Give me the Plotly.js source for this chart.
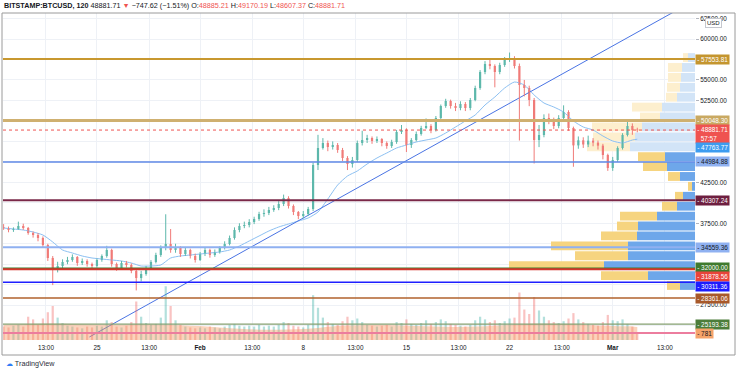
<!DOCTYPE html>
<html><head><meta charset="utf-8">
<script src="https://cdn.plot.ly/plotly-3.0.1.min.js"></script>
<style>html,body{margin:0;padding:0;background:#fff;}#chart{width:736px;height:372px;}</style>
</head><body><div id="chart"></div>
<script>
// ---------- DATA ----------
const barStartUTC = Date.UTC(2021, 0, 18, 16, 0);   // first bar
const barHours = 8;
const firstOpen = 37000;
const closes = [
 36923,36679,36801,37167,36923,36313,36068,35702,34847,33260,
 32039,32283,32772,33016,33382,32650,32894,32528,32283,33016,
 33504,34237,32528,32039,32650,32406,31673,30818,31307,32039,
 32772,33626,34481,34970,34237,34481,33749,34237,33504,33016,
 33749,34237,33626,33993,34481,34970,35702,36679,37167,37289,
 37656,38022,38633,38755,39121,39365,39854,40586,39609,38877,
 38388,38633,39243,44615,46691,47302,46813,47057,46447,45470,
 44738,45226,47302,47668,47912,47546,47790,47302,46935,47424,
 48645,48889,47057,47668,48401,49133,49377,48889,50354,51819,
 52430,51819,51575,52064,51575,52552,54017,55971,56948,56703,
 55971,56825,57436,57680,56703,54383,54017,52552,47668,48278,
 50354,50110,49377,50354,51087,49133,47010,47630,47120,47590,
 47350,46980,45836,44249,45226,46691,48278,49377,48889,48881.71];
const highs = [
 37400,37100,37000,37700,37450,37050,36500,36300,35900,35000,
 33500,32800,33100,33400,33700,33500,33200,33100,32700,33200,
 33700,34750,34400,32700,32900,32900,32600,31900,31700,32300,
 33000,33900,34800,38600,36800,35000,34700,34500,34400,33800,
 34000,34500,34400,34300,34700,35300,36000,37000,37500,37700,
 38000,38300,38900,39200,39500,39700,40200,41000,40800,39800,
 39000,39000,39500,44900,48300,47900,47600,47500,47300,46700,
 45700,45600,47600,48800,48300,48100,48100,47900,47500,47700,
 48900,49500,49100,47900,48700,49400,50300,49600,50600,52000,
 52700,52600,52200,52400,52300,52800,54300,56200,57300,57500,
 56900,57100,57800,58350,57900,57000,55000,54300,52800,49500,
 50800,50900,50400,50700,51900,51300,49300,48100,48000,48200,
 47900,47600,47200,46000,45600,46900,48500,50100,49700,49170.19];
const lows = [
 36700,36400,36450,36700,36700,36100,35750,35300,34500,32900,
 29950,31500,31900,32500,32800,32300,32400,32200,31900,32100,
 32800,33300,32200,31700,31800,32100,31400,29300,30400,31100,
 31800,32600,33400,34200,33900,33900,33400,33500,33200,32700,
 32900,33500,33300,33400,33800,34300,34800,35500,36400,36900,
 37000,37400,37800,38300,38500,38900,39100,39600,39300,38500,
 38000,38100,38400,39000,44000,46500,46300,46500,46100,45100,
 44000,44300,45000,47000,47300,47200,47300,46900,46600,46700,
 47200,48400,46200,46700,47500,48200,49000,48500,48700,50200,
 51600,51500,51200,51300,51200,51300,52400,53800,55700,56300,
 54100,55700,56600,57200,56400,47600,53000,51800,44800,46800,
 48000,49600,49000,49100,50000,48800,44400,46600,46700,46800,
 46900,46500,45300,43900,43900,45000,46500,48100,48300,48607.37];
const volumes = [
 1500,1400,1600,1700,1500,2600,2300,1700,2400,3100,
 3800,2500,1900,1600,1500,1400,1300,1500,1400,1600,
 1500,2200,2000,1500,1400,1600,2000,4300,2600,1900,
 1700,1800,2500,6000,3800,2200,1700,1500,1400,1300,
 1400,1300,1500,1400,1300,1500,1700,1800,1600,1500,
 1600,1500,1700,1500,1600,1500,1700,2000,1900,1600,
 1500,1400,1700,5000,3600,2500,2000,1800,1700,2100,
 2600,2200,2400,2000,1700,1600,1500,1600,1700,1500,
 2000,1900,2300,1800,1700,1900,2200,1800,2000,2300,
 2100,1800,1700,1600,1500,1700,2200,2600,2300,2000,
 2200,1900,2100,2400,2500,5300,3400,2900,4800,3300,
 2600,2200,2000,1900,2100,2400,3000,2300,2000,1800,
 1700,1600,2000,2800,2200,2100,2300,1800,1500,800];
// moving average, read every 2nd bar (+ last bar)
const maValues = [
 36923,36801,36679,36435,36068,35214,34237,33871,33504,33260,
 33138,33016,32894,32650,32283,32283,32406,33260,33504,33626,
 33749,33871,33993,34237,34725,35336,35946,36557,37046,37412,
 37778,38144,38877,40464,42173,43274,43883,44738,45470,46081,
 46691,47057,47424,47668,47912,48522,49255,49988,50720,51942,
 52918,54017,54750,54383,53162,52186,51698,51087,49988,49255,
 48889,48156,47546,47302,47668,47763.77];
// volume moving average, read every 4th bar (+ last bar)
const volMAValues = [
 1700,1750,1800,1800,1750,1700,1700,1750,1700,1650,
 1550,1400,1250,1150,1150,1200,1350,1550,1650,1700,
 1650,1550,1500,1450,1500,1600,1700,1800,1800,1750,
 1650,1550,1500,1450];
// visible-range volume profile rows
const vpPrices = [29905,31115,32325,33535,34745,35955,37165,38375,39585,40795,42005,43215,
                  44425,45635,46845,48055,49265,50475,51685,52895,54105,55315,56525,57735];
const vpUp   = [15,47,91,67,67,58,57,38,18,12,3,15,28,30,65,60,53,35,33,18,15,14,13,7];
const vpDown = [13,47,95,53,77,36,21,37,15,8,4,12,24,27,43,42,50,20,30,11,13,13,14,5];
const vpValueArea = [1,1,1,1,1,1,1,1,1,1,1,1,1,1,0,0,0,0,0,0,0,0,0,0];
// horizontal levels
const levelPrices = [57553.81, 50048.30, 44984.88, 40307.24, 34559.36, 32000.00, 31878.56, 30311.36, 28361.06, 25193.38];
const lastPrice = 48881.71, countdown = '57:57';
const maLast = 47763.77;
const volLevel = 781;
const trendTimes = ['2021-01-24 11:40', '2021-03-06 14:00'];
const trendPrices = [23614, 64744];
const priceTicks = [25000,27500,30000,32500,35000,37500,40000,42500,45000,47500,50000,52500,55000,57500,60000,62500];
const priceTickShown = [0,1,0,0,0,1,0,1,0,0,0,1,1,0,1,1];
const tickDates = ['2021-01-21 13:00','2021-01-25','2021-01-28 13:00','2021-02-01','2021-02-04 13:00','2021-02-08',
  '2021-02-11 13:00','2021-02-15','2021-02-18 13:00','2021-02-22','2021-02-25 13:00','2021-03-01','2021-03-04 13:00'];
const tickLabels = ['13:00','25','13:00','<b>Feb</b>','13:00','8','13:00','15','13:00','22','13:00','<b>Mar</b>','13:00'];
const header = {sym:'BITSTAMP:BTCUSD, 120', last:'48881.71', chg:'−747.62 (−1.51%)', o:'48885.21', h:'49170.19', l:'48607.37', c:'48881.71'};

// ---------- STYLES ----------
const levelStyle = [
 {line:'#c8982f', w:2,   bg:'#c4952f', fg:'#ffffff', shift:0},
 {line:'#cfb070', w:3,   bg:'#c9a962', fg:'#ffffff', shift:0},
 {line:'#5f88e6', w:1.5, bg:'#8fb1f1', fg:'#131722', shift:0},
 {line:'#7a2848', w:2,   bg:'#6e1f40', fg:'#ffffff', shift:0},
 {line:'#8fb0f1', w:2,   bg:'#8fb1f1', fg:'#131722', shift:0},
 {line:'#3d7c2e', w:1.5, bg:'#3f7a2e', fg:'#ffffff', shift:1},
 {line:'#d3372c', w:2,   bg:'#e8443a', fg:'#ffffff', shift:-7},
 {line:'#1f1fff', w:1.5, bg:'#1c1cff', fg:'#ffffff', shift:-4},
 {line:'#b0622c', w:1.5, bg:'#a8592a', fg:'#ffffff', shift:0},
 {line:'#85a071', w:1.2, bg:'#4c7d3a', fg:'#ffffff', shift:0}
];
const FONT = 'Liberation Sans, Arial, sans-serif';
const upCol = '#5db8ab', dnCol = '#f07b78';

// ---------- BUILD ----------
function fmt(ms){const d=new Date(ms);const p=n=>String(n).padStart(2,'0');
  return d.getUTCFullYear()+'-'+p(d.getUTCMonth()+1)+'-'+p(d.getUTCDate())+' '+p(d.getUTCHours())+':'+p(d.getUTCMinutes());}
const barTimes = closes.map((_,i)=>fmt(barStartUTC + i*barHours*3600e3));
const opens = closes.map((c,i)=> i===0 ? firstOpen : closes[i-1]);
const isUp = closes.map((c,i)=> c >= opens[i]);
const maIdx = []; for(let k=0;k<maValues.length-1;k++) maIdx.push(2*k); maIdx.push(closes.length-1);
const vmaIdx = []; for(let k=0;k<volMAValues.length-1;k++) vmaIdx.push(4*k); vmaIdx.push(closes.length-1);

const traces = [];
// volume profile (base subplot, drawn beneath)
traces.push({type:'bar', orientation:'h', xaxis:'x', yaxis:'y', y:vpPrices, x:vpUp, base:0, width:1080,
  marker:{color:vpValueArea.map(v=>v?'#6ea7ea':'#d2e4f7'), line:{width:0}}, hoverinfo:'skip'});
traces.push({type:'bar', orientation:'h', xaxis:'x', yaxis:'y', y:vpPrices, x:vpDown, base:vpUp, width:1080,
  marker:{color:vpValueArea.map(v=>v?'#f6d47f':'#fdefce'), line:{width:0}}, hoverinfo:'skip'});
// MA
traces.push({type:'scatter', mode:'lines', xaxis:'x2', yaxis:'y', x:maIdx.map(i=>barTimes[i]), y:maValues,
  line:{color:'#8cc0f2', width:1, shape:'spline', smoothing:0.6}, hoverinfo:'skip'});
// trend line
traces.push({type:'scatter', mode:'lines', xaxis:'x2', yaxis:'y', x:trendTimes, y:trendPrices,
  line:{color:'#4a74e4', width:1}, hoverinfo:'skip'});
// candle wicks (one trace per direction)
[true,false].forEach(dir=>{
  const wx=[], wy=[];
  barTimes.forEach((t,i)=>{ if(isUp[i]===dir){ wx.push(t,t,null); wy.push(lows[i],highs[i],null); } });
  traces.push({type:'scatter', mode:'lines', xaxis:'x2', yaxis:'y', x:wx, y:wy, connectgaps:false,
    line:{color:dir?upCol:dnCol, width:1}, hoverinfo:'skip'});
});
// candle bodies
traces.push({type:'bar', xaxis:'x2', yaxis:'y', x:barTimes,
  y:closes.map((c,i)=>Math.max(Math.abs(c-opens[i]), 60)), base:closes.map((c,i)=>Math.min(c,opens[i])),
  width:barHours*3600e3*0.45, marker:{color:isUp.map(u=>u?upCol:dnCol), line:{width:0}}, hoverinfo:'skip'});
// volume MA area
traces.push({type:'scatter', mode:'lines', xaxis:'x2', yaxis:'y2', x:vmaIdx.map(i=>barTimes[i]), y:volMAValues,
  fill:'tozeroy', fillcolor:'rgba(245,150,95,0.42)', line:{color:'rgba(0,0,0,0)', width:0, shape:'spline'}, hoverinfo:'skip'});
// volume bars
traces.push({type:'bar', xaxis:'x2', yaxis:'y2', x:barTimes, y:volumes, width:barHours*3600e3*0.45,
  marker:{color:isUp.map(u=> u ? 'rgba(38,166,154,0.35)' : 'rgba(239,83,80,0.35)'), line:{width:0}}, hoverinfo:'skip'});

const shapes = [];
levelPrices.forEach((p,i)=>{
  shapes.push({type:'line', xref:'paper', yref:'y', x0:0, x1:1, y0:p, y1:p, line:{color:levelStyle[i].line, width:levelStyle[i].w}, layer:'above'});
});
shapes.push({type:'line', xref:'paper', yref:'y', x0:0, x1:1, y0:lastPrice, y1:lastPrice, line:{color:'#ef5350', width:1, dash:'dot'}, layer:'above'});
shapes.push({type:'line', xref:'paper', yref:'y2', x0:0, x1:1, y0:volLevel, y1:volLevel, line:{color:'#ec7d9e', width:2}, layer:'above'});
// widget frame
shapes.push({type:'rect', xref:'paper', yref:'paper', x0:-1/692, x1:732/692, y0:-15/327, y1:1, line:{color:'#9a9a9a', width:1}, layer:'above'});

const annotations = [];
function lab(text, y, yref, bg, fg, yshift){
  annotations.push({xref:'paper', yref:yref, x:1, y:y, xanchor:'left', yanchor:'middle', xshift:0, yshift:yshift||0,
    text:text, showarrow:false, align:'left', bgcolor:bg, borderpad:1.2,
    font:{family:FONT, size:6.4, color:fg}});
}
levelPrices.forEach((p,i)=> lab('- '+p.toFixed(2), p, 'y', levelStyle[i].bg, levelStyle[i].fg, levelStyle[i].shift));
lab('- '+lastPrice.toFixed(2)+'<br>&nbsp;&nbsp;'+countdown, lastPrice, 'y', '#ef5350', '#ffffff', -3.5);
lab('- '+maLast.toFixed(2), maLast, 'y', '#3d9cf0', '#ffffff', -8);
lab('- '+volLevel, volLevel, 'y2', '#f5a36a', '#131722', 0);
annotations.push({xref:'paper', yref:'paper', x:(713.5-3)/692, y:(340-22.5)/327, xanchor:'center', yanchor:'middle',
  text:'USD', showarrow:false, bgcolor:'#ffffff', bordercolor:'#c4c7ce', borderwidth:1, borderpad:1, font:{family:FONT,size:6,color:'#131722'}});
const red = s=>'<span style="color:#ef5350">'+s+'</span>';
annotations.push({xref:'paper', yref:'paper', x:-1/692, y:(340-6)/327, xanchor:'left', yanchor:'middle', showarrow:false,
  text:'<b>'+header.sym+'</b> '+header.last+' '+red('▼')+' '+header.chg+' O:'+red(header.o)+' H:'+red(header.h)+' L:'+red(header.l)+' C:'+red(header.c),
  font:{family:FONT, size:7.2, color:'#131722'}});
annotations.push({xref:'paper', yref:'paper', x:(4-3)/692, y:(340-363)/327, xanchor:'left', yanchor:'middle', showarrow:false,
  text:'<span style="color:#2f7cf6">☁</span> TradingView', font:{family:FONT, size:7.2, color:'#2a2e39'}});

const layout = {
  width:736, height:372, margin:{l:3, r:41, t:13, b:32, pad:0},
  paper_bgcolor:'#ffffff', plot_bgcolor:'#ffffff', showlegend:false, barmode:'overlay',
  font:{family:FONT, size:6.4, color:'#131722'},
  xaxis:{range:[692,0], visible:false, fixedrange:true},
  xaxis2:{type:'date', overlaying:'x', anchor:'y', side:'bottom', range:['2021-01-18 15:00','2021-03-06 14:00'],
    tickmode:'array', tickvals:tickDates, ticktext:tickLabels, showgrid:true, gridcolor:'#eef1f6', gridwidth:1,
    zeroline:false, showline:false, ticks:'', ticklabelstandoff:3, tickfont:{family:FONT, size:6.4, color:'#131722'}, rangeslider:{visible:false}},
  yaxis:{side:'right', anchor:'x', range:[23248,63175], tickmode:'array', tickvals:priceTicks,
    ticktext:priceTicks.map((v,i)=> priceTickShown[i] ? v.toFixed(2) : ''), showgrid:true,
    gridcolor:'#eef1f6', zeroline:false, showline:false, ticks:'outside', ticklen:3, tickcolor:'#b2b5be',
    tickfont:{family:FONT, size:6.4, color:'#131722'}},
  yaxis2:{overlaying:'y', range:[0,36500], visible:false},
  shapes:shapes, annotations:annotations
};
Plotly.newPlot('chart', traces, layout, {staticPlot:true, displayModeBar:false});
</script></body></html>
